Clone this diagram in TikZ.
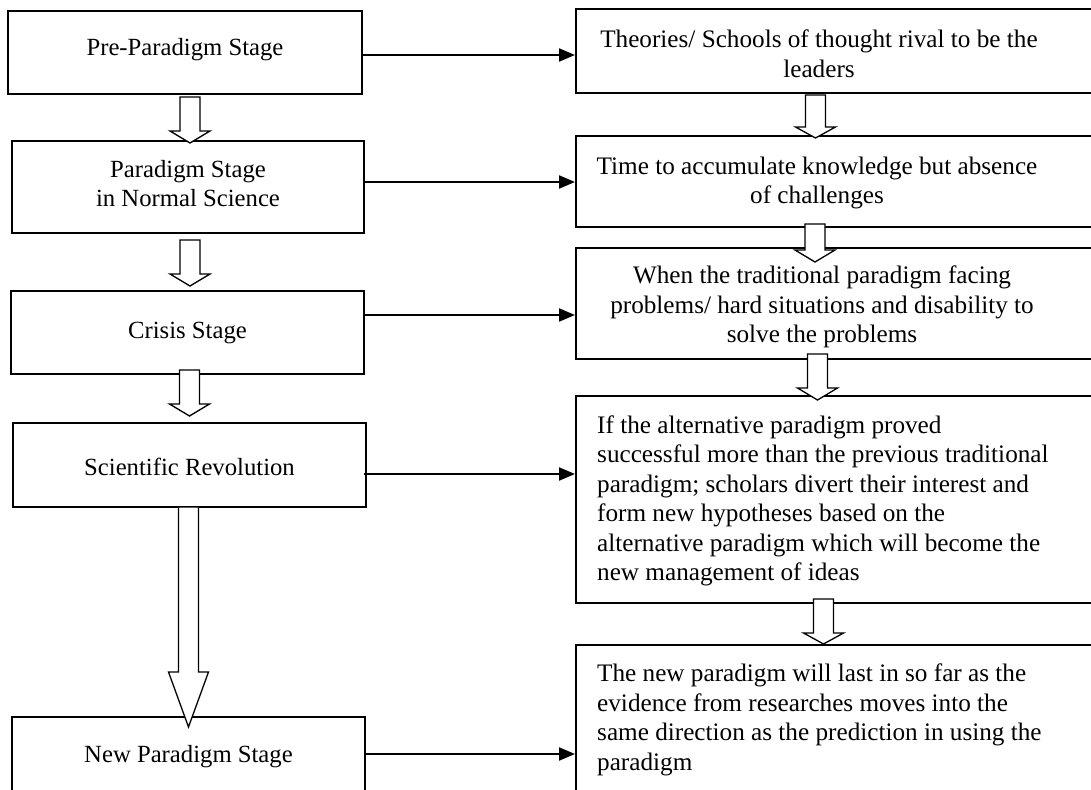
\documentclass[tikz,border=0pt]{standalone}
\usepackage{fontspec}
\setmainfont{Liberation Serif}
\usetikzlibrary{arrows.meta}

% block arrow pointing down: x centre, shaft top, head base, tip
\newcommand{\blockdown}[4]{%
  \draw[blockarrow] (#1-10,#2) -- (#1+10,#2) -- (#1+10,#3) -- (#1+20,#3)
    -- (#1,#4) -- (#1-20,#3) -- (#1-10,#3) -- cycle;}

\begin{document}
\begin{tikzpicture}[x=1pt,y=-1pt,
  font=\fontsize{24.7pt}{29pt}\selectfont,
  stagebox/.style={draw,line width=2pt,fill=white,inner sep=0pt},
  notebox/.style={draw,line width=2pt,fill=white,inner sep=0pt},
  notetext/.style={inner sep=0pt,align=center,font=\fontsize{25.2pt}{29.5pt}\selectfont},
  notetextleft/.style={inner sep=0pt,align=left,font=\fontsize{25.2pt}{29.5pt}\selectfont},
  link/.style={line width=2pt,-{Triangle[length=16pt,width=13pt]}},
  blockarrow/.style={draw,fill=white,line width=1.3pt,line join=miter}]
\useasboundingbox (0,0) rectangle (1091,789);
\clip (0,0) rectangle (1091,789);

% stage boxes on the left
\node[stagebox,minimum width=354pt,minimum height=83pt] (b1) at (185,52.5) {};
\node[inner sep=0pt] (t1) at (185,50) {Pre-Paradigm Stage};
\node[stagebox,minimum width=352pt,minimum height=92pt] (b2) at (188,187) {};
\node[inner sep=0pt,align=center] (t2) at (188,184) {Paradigm Stage\\in Normal Science};
\node[stagebox,minimum width=353pt,minimum height=83pt] (b3) at (187.5,332.5) {};
\node[inner sep=0pt] (t3) at (187.5,333) {Crisis Stage};
\node[stagebox,minimum width=353pt,minimum height=84pt] (b4) at (189.5,465) {};
\node[inner sep=0pt] (t4) at (189.5,467) {Scientific Revolution};
\node[stagebox,minimum width=353pt,minimum height=80pt] (b5) at (188.5,757) {};
\node[inner sep=0pt] (t5) at (188.5,757) {New Paradigm Stage};

% description boxes on the right
\node[notebox,minimum width=534pt,minimum height=84pt] (r1) at (843,51) {};
\node[notetext] (s1) at (819,54) {Theories/ Schools of thought rival to be the\\leaders};
\node[notebox,minimum width=534pt,minimum height=91pt] (r2) at (843,181.5) {};
\node[notetext] (s2) at (817,183) {Time to accumulate knowledge but absence\\of challenges};
\node[notebox,minimum width=534pt,minimum height=111pt] (r3) at (843,303.5) {};
\node[notetext] (s3) at (822,307) {When the traditional paradigm facing\\problems/ hard situations and disability to\\solve the problems};
\node[notebox,minimum width=534pt,minimum height=207pt] (r4) at (843,499.5) {};
\node[notetextleft,anchor=west] (s4) at (597,501) {If the alternative paradigm proved\\successful more than the previous traditional\\paradigm; scholars divert their interest and\\form new hypotheses based on the\\alternative paradigm which will become the\\new management of ideas};
\node[notebox,minimum width=534pt,minimum height=190pt] (r5) at (843,740) {};
\node[notetextleft,anchor=west] (s5) at (597,720) {The new paradigm will last in so far as the\\evidence from researches moves into the\\same direction as the prediction in using the\\paradigm};

% links from each stage to its description
\draw[link] (b1.east |- 0,55) -- (r1.west |- 0,55);
\draw[link] (b2.east |- 0,182) -- (r2.west |- 0,182);
\draw[link] (b3.east |- 0,315) -- (r3.west |- 0,315);
\draw[link] ([xshift=-3pt]b4.east |- 0,474) -- (r4.west |- 0,474);
\draw[link] (b5.east |- 0,754) -- (r5.west |- 0,754);

% block arrows down the stage column
\blockdown{190}{97}{131}{143}
\blockdown{190}{240}{274}{286}
\blockdown{189.5}{370}{404}{416}
\blockdown{188.5}{507}{672}{727}

% block arrows down the description column
\blockdown{815.5}{95}{127}{138}
\blockdown{815}{224}{250}{262}
\blockdown{817.5}{354}{388}{400}
\blockdown{823.5}{599}{633}{644}
\end{tikzpicture}
\end{document}
